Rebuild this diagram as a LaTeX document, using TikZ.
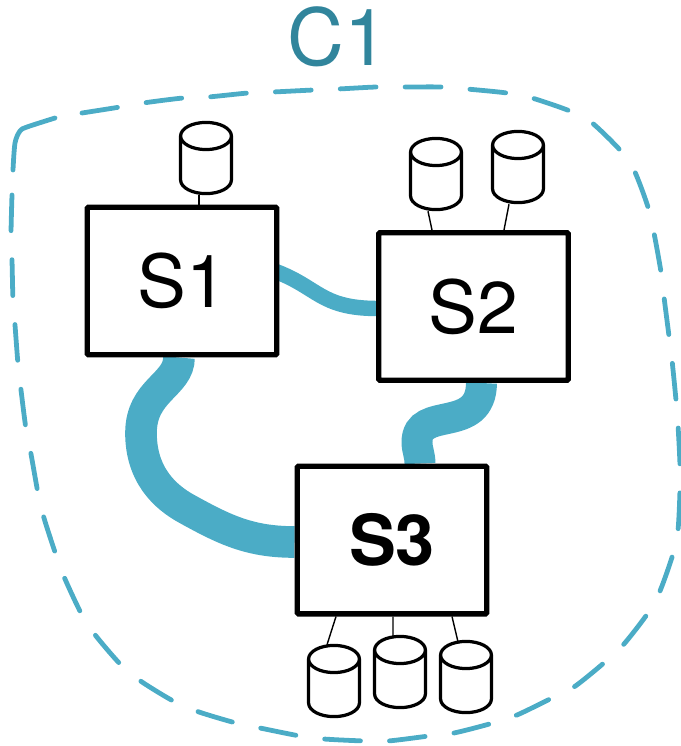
\documentclass[tikz,border=0pt]{standalone}
\usepackage{fontspec}
\setmainfont{TeX Gyre Heros}
\usepackage{xcolor}
\usetikzlibrary{shapes,shapes.geometric,positioning,calc,backgrounds}
\definecolor{linkblue}{HTML}{4BACC6}
\definecolor{labelblue}{HTML}{31859C}

\begin{document}
\begin{tikzpicture}[
    x=0.025cm, y=-0.025cm,
    server/.style={rectangle, draw, fill=white, line width=3.8pt, rounded corners=1pt, minimum width=4.74cm, minimum height=3.69cm, inner sep=0pt, font=\fontsize{52}{60}\selectfont},
    disk/.style={cylinder, shape border rotate=90, draw, fill=white, line width=2.3pt, aspect=2.9, minimum width=1.27cm, minimum height=1.78cm, anchor=shape center},
    wire/.style={line width=1pt},
    link/.style={linkblue, line width=#1},
    boundary/.style={linkblue, line width=3.4pt, line cap=round},
    dashes/.style={dash pattern=on 25.5pt off 20.67pt}
]
    \useasboundingbox (0,0) rectangle (680,746);

    % Cluster label
    \node[text=labelblue, font=\fontsize{56}{60}\selectfont, inner sep=0pt] (c1) at (338,37) {C1};

    % Servers
    \node[server] (s1) at (182,281) {S1};
    \node[server] (s2) at (473.5,306.5) {S2};
    \node[server, font=\fontsize{50}{60}\selectfont] (s3) at (392,540) {\textbf{S3}};

    % Disks
    \node[disk] (d1) at (206,158) {};
    \node[disk] (d2) at (436,174) {};
    \node[disk] (d3) at (518,167) {};
    \node[disk] (d4) at (334,681) {};
    \node[disk] (d5) at (400,672) {};
    \node[disk] (d6) at (466,677) {};

    % Links and wires behind the boxes
    \begin{scope}[on background layer]
        \draw[link=22.5pt] ($(s1.south)+(-3,0)$) .. controls (179,385) and (141,390) .. (141,433) .. controls (141,475) and (165,497) .. (187,509) .. controls (225,530) and (250,542) .. (s3.west |- 0,542);
        \draw[link=11pt] ($(s1.east)+(-5,-10)$) .. controls (318,287) and (320,308) .. ($(s2.west)+(0,2)$);
        \draw[link=22pt] ($(s2.south)+(8,0)$) .. controls (481,435) and (417,405) .. (417,442) .. controls (417,450) and (420,455) .. ($(s3.north)+(28,0)$);

        \draw[wire] ($(d1.south)+(-7,0)$) -- ($(s1.north)+(17,0)$);
        \draw[wire] ($(d2.south)+(-8,0)$) -- ($(s2.north)+(-41.5,0)$);
        \draw[wire] ($(d3.south)+(-9,0)$) -- ($(s2.north)+(30.5,0)$);
        \draw[wire] ($(s3.south)+(-56,0)$) -- ($(d4.north)+(-7,1)$);
        \draw[wire] ($(s3.south)+(1,0)$) -- ($(d5.north)+(-7,2)$);
        \draw[wire] ($(s3.south)+(60,0)$) -- ($(d6.north)+(-8,2)$);
    \end{scope}

    % Dashed cluster boundary
    \draw[boundary, dashes] plot[smooth, tension=0.5] coordinates {
        (82,113) (120,107) (143,103) (183,98) (208,97) (248,93) (273,92) (313,90) (338,89) (376,87) (402,87) (442,87)
        (467,89) (507,93) (532,98) (570,111) (591,122) (620,150) (634,170) (648,207) (654,233) (661,272) (664,297)
        (669,336) (672,360) (676,400) (678,425) (680,465) (680,490) (678,530) (673,554) (660,591) (648,613) (624,644)
        (605,662) (574,687) (552,698) (517,715) (493,723) (454,733) (429,736) (388,741) (365,741) (324,739) (300,736)
        (260,728) (236,723) (199,712) (175,702) (142,682) (122,666) (96,636) (82,615) (65,579) (56,555) (44,518)
        (38,493) (31,454) (26,429) (21,390) (18,364) (15,325) (13,300) (12,260) (11,235) (12,195)};
    \draw[boundary] plot[smooth, tension=0.5] coordinates {(13,170) (15,143) (20,131) (27,127) (55,118)};
\end{tikzpicture}
\end{document}
